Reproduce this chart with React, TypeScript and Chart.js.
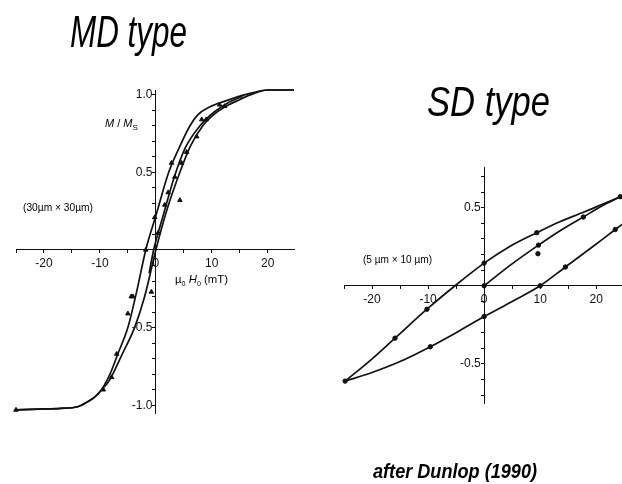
import React, { useEffect, useLayoutEffect, useRef } from 'react';
import { Chart, registerables } from 'chart.js';

Chart.register(...registerables);

// ---------- MD type (30µm × 30µm) ----------
// descending branch (coming down from +saturation), listed by increasing field
const mdDescH = [-25, -21, -17, -14, -12.3, -11, -9.7, -8.2, -6.8, -5, -3.5, -1.8, 0, 2.3, 4.2, 6.1, 7.5, 9.6, 12.5, 16, 20, 24.7];
const mdDescM = [-1.03, -1.025, -1.02, -1.01, -0.98, -0.95, -0.9, -0.8, -0.67, -0.5, -0.28, 0.0, 0.22, 0.5, 0.66, 0.8, 0.87, 0.92, 0.96, 1.0, 1.03, 1.03];
// ascending branch
const mdAscH = [-25, -21, -17, -14, -12.3, -11, -9.7, -8.5, -7.7, -6, -3.8, -2, 0, 2, 4.3, 6.2, 8.4, 10.3, 12.3, 14.5, 17, 20, 24.7];
const mdAscM = [-1.03, -1.025, -1.02, -1.01, -0.98, -0.95, -0.9, -0.85, -0.8, -0.67, -0.5, -0.3, 0.0, 0.26, 0.5, 0.67, 0.8, 0.87, 0.92, 0.96, 1.0, 1.03, 1.03];
// middle curve
const mdMidH = [-1.2, -0.4, 1.3, 3.3, 5.3, 7.9, 10.5, 13, 15.5];
const mdMidM = [-0.15, 0, 0.22, 0.47, 0.66, 0.8, 0.89, 0.95, 0.99];
// measured points
const mdPtsH = [12.3, 11.4, 9.0, 8.2, 7.3, 5.5, 4.6, 2.8, 3.4, 2.2, 1.6, -0.2, 0.4, -1.8, -4.1, -4.4, -5.0, -7.0, -7.9, -9.4, -25, 4.3, -0.8];
const mdPtsM = [0.925, 0.935, 0.84, 0.84, 0.73, 0.63, 0.56, 0.56, 0.47, 0.37, 0.29, 0.21, 0.11, 0.0, -0.3, -0.3, -0.41, -0.67, -0.82, -0.9, -1.03, 0.32, -0.27];

// ---------- SD type (5 µm × 10 µm) ----------
const sdUpperH = [-24.8, -20.4, -15.9, -10.2, -5.2, 0, 4.5, 9.4, 13.5, 17.7, 21, 24.3];
const sdUpperM = [-0.61, -0.48, -0.335, -0.15, 0, 0.145, 0.25, 0.34, 0.41, 0.47, 0.52, 0.57];
const sdLowerH = [-24.8, -20, -15, -9.6, -5, 0, 5, 10, 14.5, 19, 23.4, 26];
const sdLowerM = [-0.61, -0.555, -0.485, -0.39, -0.3, -0.197, -0.1, 0, 0.12, 0.24, 0.36, 0.43];
const sdInitH = [0, 4.8, 9.7, 13.7, 17.7, 21, 24.3];
const sdInitM = [0, 0.135, 0.26, 0.355, 0.44, 0.51, 0.57];
const sdPtsH = [24.3, 17.7, 9.7, 9.4, 0, 0, 0, -10.2, -15.9, -24.8, -9.6, 14.5, 23.4, 9.6, 10];
const sdPtsM = [0.57, 0.44, 0.26, 0.34, 0.145, 0, -0.197, -0.15, -0.335, -0.61, -0.39, 0.12, 0.36, 0.205, 0];

// tick labels
const xTickLabels = [-20, -10, 0, 10, 20];
const mdYTickLabels = [-1.0, -0.5, 0.5, 1.0];
const sdYTickLabels = [-0.5, 0.5];

const INK = '#111';
const TICK_FONT = { family: '"Liberation Sans", Arial, sans-serif', size: 12 };

const toPts = (xs: number[], ys: number[]) => xs.map((x, i) => ({ x, y: ys[i] }));

const lineDs = (xs: number[], ys: number[]) => ({
  data: toPts(xs, ys),
  showLine: true,
  borderColor: INK,
  borderWidth: 1.7,
  pointRadius: 0,
  cubicInterpolationMode: 'monotone',
  clip: false as const,
});

const markerDs = (xs: number[], ys: number[], style: string, r: number) => ({
  data: toPts(xs, ys),
  showLine: false,
  pointStyle: style,
  pointRadius: r,
  backgroundColor: INK,
  borderColor: INK,
  borderWidth: 1,
  clip: false as const,
});

// regular ticks at every multiple of 1/div inside the scale range
const regularTicks = (div: number) => (s: any) => {
  const out: any[] = [];
  for (let k = Math.ceil(s.min * div - 1e-6); k <= Math.floor(s.max * div + 1e-6); k++) {
    out.push({ value: k / div });
  }
  s.ticks = out;
};

function buildOptions(xMin: number, xMax: number, yMin: number, yMax: number, padding: any, yLabels: number[]) {
  return {
    animation: false,
    responsive: false,
    maintainAspectRatio: false,
    layout: { padding, autoPadding: false },
    plugins: { legend: { display: false }, tooltip: { enabled: false }, title: { display: false } },
    scales: {
      x: {
        type: 'linear',
        min: xMin,
        max: xMax,
        position: { y: 0 },
        border: { display: true, color: INK, width: 1 },
        grid: { drawOnChartArea: false, drawTicks: true, tickLength: 3, color: INK },
        ticks: {
          autoSkip: false,
          maxRotation: 0,
          padding: 4,
          color: INK,
          font: TICK_FONT,
          callback: (v: number) => (xTickLabels.some((l) => Math.abs(l - v) < 1e-6) ? String(Math.round(v)) : ''),
        },
        afterBuildTicks: regularTicks(1 / 5),
      },
      y: {
        type: 'linear',
        min: yMin,
        max: yMax,
        position: { x: 0 },
        border: { display: true, color: INK, width: 1 },
        grid: { drawOnChartArea: false, drawTicks: true, tickLength: 3, color: INK },
        ticks: {
          autoSkip: false,
          padding: 4,
          color: INK,
          font: TICK_FONT,
          callback: (v: number) => {
            const r = Math.round(v * 10) / 10;
            return yLabels.some((l) => Math.abs(l - r) < 1e-6) ? r.toFixed(1) + ' ' : '';
          },
        },
        afterBuildTicks: regularTicks(10),
      },
    },
  };
}

function HystChart(props: { left: number; width: number; height: number; datasets: any[]; options: any }) {
  const ref = useRef<HTMLCanvasElement>(null);
  useEffect(() => {
    if (!ref.current) return;
    const chart = new Chart(ref.current, {
      type: 'scatter',
      data: { datasets: props.datasets },
      options: props.options,
    } as any);
    return () => chart.destroy();
  }, []);
  return (
    <canvas
      ref={ref}
      width={props.width}
      height={props.height}
      style={{ position: 'absolute', left: props.left, top: 0, width: props.width, height: props.height }}
    />
  );
}

function Txt(props: {
  left: number;
  baseline: number;
  size: number;
  width?: number;
  italic?: boolean;
  weight?: number;
  family?: string;
  children: React.ReactNode;
}) {
  const ref = useRef<HTMLDivElement>(null);
  useLayoutEffect(() => {
    const el = ref.current;
    if (!el || !props.width) return;
    el.style.transform = 'none';
    const w = el.getBoundingClientRect().width;
    if (w > 0) el.style.transform = `scaleX(${props.width / w})`;
  }, [props.width]);
  return (
    <div
      ref={ref}
      style={{
        position: 'absolute',
        left: props.left,
        top: props.baseline - 0.8465 * props.size,
        fontSize: props.size,
        lineHeight: `${props.size}px`,
        fontFamily: props.family || '"Liberation Sans", Arial, sans-serif',
        fontStyle: props.italic ? 'italic' : 'normal',
        fontWeight: props.weight || 400,
        whiteSpace: 'nowrap',
        transformOrigin: '0 0',
        color: '#000',
      }}
    >
      {props.children}
    </div>
  );
}

const TITLE_FONT = '"Liberation Sans Narrow", "Liberation Sans", Arial, sans-serif';

export default function App() {
  const mdDatasets = [
    lineDs(mdDescH, mdDescM),
    lineDs(mdAscH, mdAscM),
    lineDs(mdMidH, mdMidM),
    markerDs(mdPtsH, mdPtsM, 'triangle', 2.6),
  ];
  const sdDatasets = [
    lineDs(sdUpperH, sdUpperM),
    lineDs(sdLowerH, sdLowerM),
    lineDs(sdInitH, sdInitM),
    markerDs(sdPtsH, sdPtsM, 'circle', 2.2),
  ];
  const mdOptions = buildOptions(-25, 24.7, -1.05, 1.03, { left: 16, right: 17, top: 90, bottom: 71 }, mdYTickLabels);
  const sdOptions = buildOptions(-25, 24.6, -0.75, 0.76, { left: 14, right: 0, top: 167, bottom: 81 }, sdYTickLabels);

  return (
    <div style={{ position: 'fixed', left: 0, top: 0, width: 622, height: 484, background: '#fff', overflow: 'hidden' }}>
      <HystChart left={0} width={311} height={484} datasets={mdDatasets} options={mdOptions} />
      <HystChart left={330} width={292} height={484} datasets={sdDatasets} options={sdOptions} />

      <Txt left={70} baseline={47} size={44} width={117} italic family={TITLE_FONT}>MD type</Txt>
      <Txt left={427} baseline={117} size={42} width={123} italic family={TITLE_FONT}>SD type</Txt>
      <Txt left={373} baseline={478} size={21} width={164} italic weight={700} family={TITLE_FONT}>after Dunlop (1990)</Txt>

      <Txt left={105} baseline={127} size={11}>
        <i>M</i> / <i>M</i><sub style={{ fontSize: 8 }}>S</sub>
      </Txt>
      <Txt left={23} baseline={211} size={10.5} width={70}>(30µm × 30µm)</Txt>
      <Txt left={175} baseline={283} size={11} width={53}>
        µ<sub style={{ fontSize: 7 }}>0</sub> <i>H</i><sub style={{ fontSize: 7 }}>0</sub>  (mT)
      </Txt>
      <Txt left={363} baseline={263} size={10.5} width={69}>(5 µm × 10 µm)</Txt>
    </div>
  );
}
